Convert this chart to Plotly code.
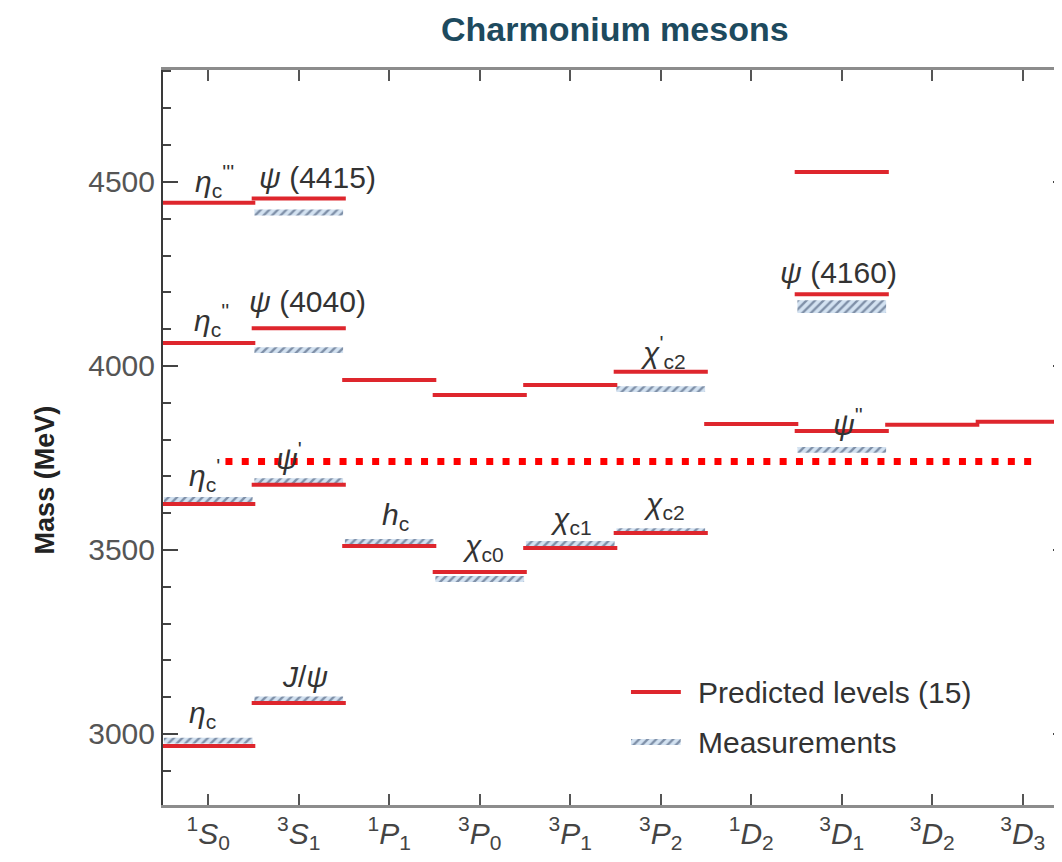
import plotly.graph_objects as go

# ---------------- data ----------------
categories = ["1S0", "3S1", "1P1", "3P0", "3P1", "3P2", "1D2", "3D1", "3D2", "3D3"]
tick_labels = ["<sup>1</sup><i>S</i><sub>0</sub>", "<sup>3</sup><i>S</i><sub>1</sub>",
               "<sup>1</sup><i>P</i><sub>1</sub>", "<sup>3</sup><i>P</i><sub>0</sub>",
               "<sup>3</sup><i>P</i><sub>1</sub>", "<sup>3</sup><i>P</i><sub>2</sub>",
               "<sup>1</sup><i>D</i><sub>2</sub>", "<sup>3</sup><i>D</i><sub>1</sub>",
               "<sup>3</sup><i>D</i><sub>2</sub>", "<sup>3</sup><i>D</i><sub>3</sub>"]

# predicted levels (category index, mass in MeV)
pred_cat = [0, 0, 0, 0, 1, 1, 1, 1, 2, 2, 3, 3, 4, 4, 5, 5, 6, 7, 7, 7, 8, 9]
pred_mass = [2967, 3625, 4062, 4443, 3084, 3677, 4102, 4455, 3511, 3962, 3440, 3921,
             3505, 3948, 3546, 3984, 3842, 3823, 4195, 4527, 3840, 3848]

# measured states (category index, mass in MeV)
meas_cat = [0, 0, 1, 1, 1, 1, 2, 3, 4, 5, 5, 7, 7]
meas_mass = [2982, 3636, 3094, 3687, 4043, 4417, 3522, 3421, 3516, 3551, 3937, 3772, 4161]

threshold_mass = 3740

y_ticks = [3000, 3500, 4000, 4500]

label_text = ["<i>η</i><sub>c</sub><sup>'''</sup>", "<i>ψ</i> (4415)",
              "<i>η</i><sub>c</sub><sup>''</sup>", "<i>ψ</i> (4040)",
              "<i>η</i><sub>c</sub><sup>'</sup>", "<i>ψ</i><sup>'</sup>",
              "<i>η</i><sub>c</sub>", "<i>J</i>/<i>ψ</i>",
              "<i>h</i><sub>c</sub>", "<i>χ</i><sub>c0</sub>", "<i>χ</i><sub>c1</sub>",
              "<i>χ</i><sub>c2</sub>", "<i>χ</i><sup>'</sup><sub>c2</sub>",
              "<i>ψ</i><sup>''</sup>", "<i>ψ</i> (4160)"]

# ---------------- style / layout ----------------
label_x = [0.073, 1.209, 0.04, 1.099, -0.037, 0.889, -0.059, 1.066,
           2.069, 3.039, 4.009, 5.035, 5.024, 7.074, 6.964]
label_y = [4502, 4513, 4125, 4174, 3704, 3755, 3054, 3155,
           3590, 3508, 3579, 3622, 4038, 3848, 4255]
meas_band = [16, 16, 16, 16, 16, 16, 16, 16, 16, 16, 16, 16, 35]

RED = "#de262d"
HATCH_FG = "#2a3d5e"
HATCH_BG = "#d3e2f1"
FONT = "Liberation Sans, Arial, sans-serif"
half = 0.52

fig = go.Figure()

# measurement bands (hatched)
fig.add_trace(go.Bar(
    x=meas_cat, y=meas_band,
    base=[m - h / 2 for m, h in zip(meas_mass, meas_band)],
    width=0.98,
    marker=dict(color=HATCH_BG, line=dict(width=0),
                pattern=dict(shape="/", fgcolor=HATCH_FG, bgcolor=HATCH_BG,
                             size=6, solidity=0.4)),
    hoverinfo="skip",
))

# predicted levels
xs, ys = [], []
for c, m in zip(pred_cat, pred_mass):
    xs += [c - half, c + half, None]
    ys += [m, m, None]
fig.add_trace(go.Scatter(x=xs, y=ys, mode="lines",
                         line=dict(color=RED, width=4), hoverinfo="skip"))

# threshold dotted line
fig.add_trace(go.Scatter(x=[0.19, 9.19], y=[threshold_mass, threshold_mass],
                         mode="lines",
                         line=dict(color="#ff0000", width=7, dash="7px,9.3px"),
                         hoverinfo="skip"))

# legend hatched sample on auxiliary axes
fig.add_trace(go.Bar(
    x=[0], y=[1], width=1, xaxis="x2", yaxis="y2",
    marker=dict(color=HATCH_BG, line=dict(width=0),
                pattern=dict(shape="/", fgcolor=HATCH_FG, bgcolor=HATCH_BG,
                             size=6, solidity=0.4)),
    hoverinfo="skip",
))

annotations = []
for t, x, y in zip(label_text, label_x, label_y):
    annotations.append(dict(x=x, y=y, xref="x", yref="y", text=t, showarrow=False,
                            xanchor="center", yanchor="middle",
                            font=dict(family=FONT, size=30, color="#333333")))

# legend texts
annotations.append(dict(x=0.5888, y=0.1537, xref="paper", yref="paper",
                        text="Predicted levels (15)", showarrow=False,
                        xanchor="left", yanchor="middle",
                        font=dict(family=FONT, size=30, color="#333333")))
annotations.append(dict(x=0.5888, y=0.0857, xref="paper", yref="paper",
                        text="Measurements", showarrow=False,
                        xanchor="left", yanchor="middle",
                        font=dict(family=FONT, size=30, color="#333333")))
# y-axis title
annotations.append(dict(x=-0.1301, y=0.442, xref="paper", yref="paper",
                        text="<b>Mass (MeV)</b>", showarrow=False, textangle=-90,
                        xanchor="center", yanchor="middle",
                        font=dict(family=FONT, size=27, color="#222222")))
# title
annotations.append(dict(x=0.4994, y=(805 - 29) / 735, xref="paper", yref="paper",
                        text="<b>Charmonium mesons</b>", showarrow=False,
                        xanchor="center", yanchor="middle",
                        font=dict(family=FONT, size=34, color="#1d4a5e")))

shapes = [dict(type="line", xref="paper", yref="paper",
               x0=0.5171, x1=0.5722, y0=0.1537, y1=0.1537,
               line=dict(color=RED, width=4))]

fig.update_layout(
    width=1062, height=862,
    margin=dict(l=155, r=0, t=62, b=65),
    paper_bgcolor="white", plot_bgcolor="white",
    showlegend=False,
    barmode="overlay",
    annotations=annotations,
    shapes=shapes,
    xaxis=dict(range=[-0.5, 9.5], tickvals=list(range(len(categories))),
               ticktext=tick_labels, ticks="inside", ticklen=11, tickwidth=2,
               tickcolor="#555555", showline=True, linecolor="#8c8c8c", linewidth=2.5,
               mirror="ticks", showgrid=False, zeroline=False,
               tickfont=dict(family=FONT, size=30, color="#444444")),
    yaxis=dict(range=[2807, 4804], tickvals=y_ticks, ticks="inside", ticklen=15,
               tickwidth=2, tickcolor="#444444", showline=True, linecolor="#3a3a3a",
               linewidth=2, mirror="ticks", showgrid=False, zeroline=False,
               minor=dict(dtick=100, ticks="inside", ticklen=8, tickwidth=2,
                          tickcolor="#444444", showgrid=False),
               tickfont=dict(family=FONT, size=30, color="#555555")),
    xaxis2=dict(domain=[0.5171, 0.5722], anchor="y2", range=[-0.5, 0.5], visible=False),
    yaxis2=dict(domain=[0.0816, 0.0898], anchor="x2", range=[0, 1], visible=False),
)

fig.write_html("out.html")
